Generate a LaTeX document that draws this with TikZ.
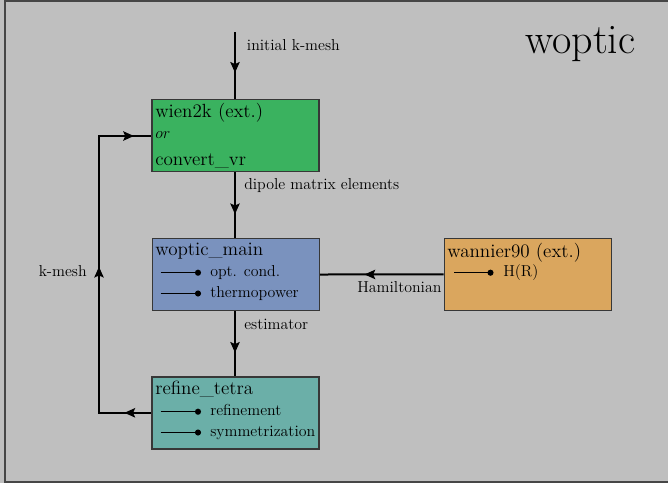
\documentclass[tikz,border=0pt]{standalone}
\usetikzlibrary{arrows.meta,decorations.markings}
\definecolor{bggray}{RGB}{191,191,191}
\definecolor{framegray}{RGB}{70,70,70}
\definecolor{boxedge}{RGB}{55,55,55}
\definecolor{wiengreen}{RGB}{58,178,95}
\definecolor{wopticblue}{RGB}{122,146,190}
\definecolor{wannorange}{RGB}{218,166,94}
\definecolor{refineteal}{RGB}{107,175,168}
\begin{document}
\begin{tikzpicture}[x=0.75pt,y=-0.75pt,
  box/.style={draw=boxedge, line width=1.1pt, minimum width=125.25pt, minimum height=54pt, inner sep=0pt},
  lbl/.style={font=\fontsize{11.9}{14}\selectfont, inner sep=0pt},
  ttl/.style={font=\fontsize{14.3}{17}\selectfont, inner sep=0pt, anchor=base west},
  itemtxt/.style={font=\fontsize{11.9}{14}\selectfont, inner sep=0pt, anchor=base west},
  flow/.style={line width=1.5pt},
  itemline/.style={line width=0.6pt},
  tip/.tip={Stealth[length=8pt,width=7pt,inset=1.5pt]},
  midarrow/.style={postaction={decorate}, decoration={markings, mark=at position #1 with {\arrow{tip}}}}
]
\useasboundingbox (0,0) rectangle (668,483);
\fill[bggray] (0,0) rectangle (668,483);
\draw[framegray, line width=1.5pt, fill=bggray] (4.5,1) rectangle (720,481.5);

% title
\node[font=\fontsize{31.5}{36}\selectfont, inner sep=0pt, anchor=base west] (title) at (525,53.3) {woptic};

% boxes
\node[box, fill=wiengreen] (wien) at (235.3,135.5) {};
\node[box, fill=wopticblue] (woptic) at (235.8,274.5) {};
\node[box, fill=wannorange] (wannier) at (527.8,274.4) {};
\node[box, fill=refineteal] (refine) at (235.3,412.8) {};

% box contents
\node[ttl] (wienT) at (155,117.5) {wien2k (ext.)};
\node[inner sep=0pt, anchor=base west, font=\fontsize{11.5}{14}\selectfont] (wienor) at (155,138) {$or$};
\node[ttl] (wienC) at (155,165) {convert\_vr};

\node[ttl] (wopticT) at (155,255) {woptic\_main};
\draw[itemline] (160.5,272.7) -- (198,272.7);
\fill (198,272.7) circle[radius=2.3pt];
\node[itemtxt] (wopticA) at (210,276.2) {opt. cond.};
\draw[itemline] (160.5,293.5) -- (198,293.5);
\fill (198,293.5) circle[radius=2.3pt];
\node[itemtxt] (wopticB) at (210,297) {thermopower};

\node[ttl] (wannierT) at (447,257) {wannier90 (ext.)};
\draw[itemline] (454,272.7) -- (490.5,272.7);
\fill (490.5,272.7) circle[radius=2.3pt];
\node[itemtxt] (wannierA) at (503,276.2) {H(R)};

\node[ttl] (refineT) at (155,394) {refine\_tetra};
\draw[itemline] (160.5,411.7) -- (198,411.7);
\fill (198,411.7) circle[radius=2.3pt];
\node[itemtxt] (refineA) at (210,415.2) {refinement};
\draw[itemline] (160.5,432.5) -- (198,432.5);
\fill (198,432.5) circle[radius=2.3pt];
\node[itemtxt] (refineB) at (210,436) {symmetrization};

% connectors
\coordinate (start) at (235,32);
\draw[flow, midarrow=0.61] (start) -- (start |- wien.north);
\node[lbl, anchor=base west] (initlbl) at (246.7,50) {initial k-mesh};

\draw[flow, midarrow=0.64] (235,0 |- wien.south) -- (235,0 |- woptic.north);
\node[lbl, anchor=base west] (dipolelbl) at (244,189) {dipole matrix elements};

\draw[flow, midarrow=0.64] (235,0 |- woptic.south) -- (235,0 |- refine.north);
\node[lbl, anchor=base west] (estlbl) at (244,329) {estimator};

\draw[flow, midarrow=0.64] (wannier.west) -- (woptic.east);
\node[lbl, anchor=base west] (hamlbl) at (357,292.3) {Hamiltonian};

\coordinate (c1) at (99,412.8);
\coordinate (c2) at (99,136);
\draw[flow, postaction={decorate}, decoration={markings,
    mark=at position 0.07 with {\arrow{tip}},
    mark=at position 0.52 with {\arrow{tip}},
    mark=at position 0.955 with {\arrow{tip}}}]
  (refine.west) -- (c1) -- (c2) -- (c2 -| wien.west);
\node[lbl, anchor=base east] (kmeshlbl) at (87,276) {k-mesh};
\end{tikzpicture}
\end{document}
